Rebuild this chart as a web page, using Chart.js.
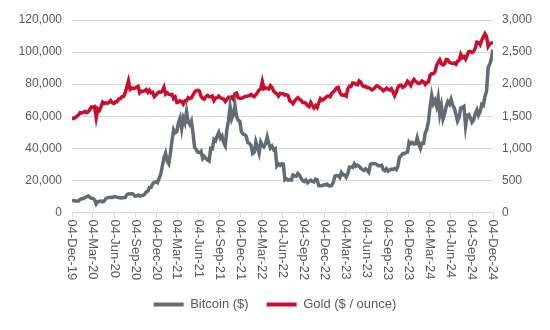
<!DOCTYPE html>
<html>
<head>
<meta charset="utf-8">
<script src="https://cdn.jsdelivr.net/npm/chart.js@4.4.1/dist/chart.umd.min.js"></script>
<style>
  html, body { margin: 0; padding: 0; background: #fff; }
  #wrap { width: 550px; height: 330px; }
</style>
</head>
<body>
<div id="wrap"><canvas id="chart" width="550" height="330"></canvas></div>
<script>
// Weekly observations (Wednesdays) from 04-Dec-19 to 04-Dec-24
const startDate = Date.UTC(2019, 11, 4);

const tickLabels = [
  '04-Dec-19', '04-Mar-20', '04-Jun-20', '04-Sep-20', '04-Dec-20', '04-Mar-21', '04-Jun-21',
  '04-Sep-21', '04-Dec-21', '04-Mar-22', '04-Jun-22', '04-Sep-22', '04-Dec-22', '04-Mar-23',
  '04-Jun-23', '04-Sep-23', '04-Dec-23', '04-Mar-24', '04-Jun-24', '04-Sep-24', '04-Dec-24'
];

const bitcoin = [
  7300, 7500, 7200, 7150,                       // Dec-19
  7200, 8100, 8700, 8650, 9300,                 // Jan-20
  9800, 10300, 9600, 8800,
  8750, 7900, 5300, 6700,
  6800, 7200, 6650, 7100, 8800,
  9100, 9300, 9500, 9400,
  9800, 9750, 9500, 9300,
  9100, 9250, 9200, 9400, 11100,
  11700, 11500, 11800, 11400,
  10200, 10300, 10900, 10250, 10600,
  10600, 11400, 12800, 13300,
  15600, 15700, 17800, 18800,
  19200, 18600, 21300, 23800, 29000,
  34000, 37000, 32000, 30400,                   // Jan-21
  36900, 44800, 51600, 49700,
  50500, 56000, 58900, 52300, 58800,
  56000, 63000, 56500, 54900,
  57000, 49500, 40600, 39300,
  37600, 37400, 38200, 33700, 35000,
  33800, 32800, 32100, 40000,
  39700, 45500, 44700, 47700,
  49900, 46400, 47800, 43600, 41600,
  51500, 57400, 65900, 58400,
  61000, 66900, 60000, 57500,
  57000, 50600, 48900, 48600, 47500,
  43500, 43100, 41800, 36800,                   // Jan-22
  37700, 44000, 40500, 37000,
  43900, 41900, 40900, 42900, 47100,
  43200, 40100, 41400, 39200,
  39700, 29000, 30300, 29400,
  30400, 30100, 20400, 21000, 20100,
  20500, 20200, 23400, 22900,
  22600, 24400, 23300, 21400, 20000,
  19300, 20200, 18500, 19400,
  20100, 19400, 19100, 20800,
  20400, 16600, 16600, 16600, 17200,
  17100, 17800, 16800, 16600,
  16800, 18900, 22700, 23000,                   // Jan-23
  22900, 21800, 24900, 23500,
  23400, 22000, 24300, 28300, 28400,
  28100, 30300, 28800, 29500,
  28800, 27600, 26800, 26300, 27200,
  26300, 25100, 30100, 30500,
  30400, 30400, 29900, 29200,
  29200, 29400, 26600, 26000, 27300,
  25800, 26500, 27100, 26900,
  27400, 26700, 28700, 34500,
  35400, 36700, 36600, 37400, 37700,
  44000, 42900, 43600, 42600,
  42800, 46600, 42700, 40000, 43300,            // Jan-24
  43200, 49700, 51800, 57000,
  66000, 73000, 67900, 69900,
  66300, 71600, 61300, 66400,
  58300, 61400, 66200, 69100, 67500,
  70600, 67000, 65100, 61400,
  57000, 59200, 65100, 65500, 66200,
  54000, 60600, 61100, 59000,
  56200, 57600, 61700, 64000,
  60600, 62800, 67400, 66700, 72300,
  75600, 90500, 92300, 96000,
  101500                                        // Dec-24
];

const gold = [
  1475, 1465, 1478, 1500,                       // Dec-19
  1520, 1555, 1550, 1558, 1575,                 // Jan-20
  1555, 1567, 1605, 1645,
  1640, 1650, 1480, 1615,
  1590, 1650, 1720, 1700, 1710,
  1700, 1715, 1745, 1710,
  1700, 1725, 1725, 1770,
  1775, 1805, 1810, 1865, 1960,
  2050, 1920, 1940, 1930,
  1940, 1950, 1965, 1865, 1890,
  1890, 1895, 1915, 1875,
  1905, 1865, 1875, 1805,
  1830, 1860, 1880, 1875, 1890,
  1950, 1845, 1865, 1845,                       // Jan-21
  1835, 1840, 1775, 1800,
  1715, 1720, 1740, 1730, 1690,
  1740, 1740, 1790, 1775,
  1785, 1830, 1875, 1900,
  1905, 1890, 1810, 1780, 1765,
  1805, 1825, 1805, 1805,
  1815, 1745, 1785, 1790,
  1815, 1790, 1775, 1770, 1730,
  1760, 1795, 1780, 1800,
  1765, 1850, 1860, 1790,
  1780, 1780, 1790, 1805, 1810,
  1815, 1820, 1840, 1820,                       // Jan-22
  1805, 1835, 1870, 1910,
  1925, 2040, 1930, 1945, 1935,
  1925, 1975, 1950, 1890,
  1870, 1850, 1815, 1855,
  1850, 1850, 1830, 1835, 1820,
  1740, 1725, 1695, 1735,
  1765, 1790, 1765, 1750, 1715,
  1715, 1700, 1665, 1650,
  1715, 1670, 1630, 1665,
  1635, 1710, 1775, 1750, 1765,
  1785, 1810, 1815, 1805,
  1855, 1880, 1905, 1940,                       // Jan-23
  1950, 1875, 1835, 1825,
  1835, 1815, 1925, 1970, 1965,
  2020, 2015, 2000, 1990,
  2050, 2030, 1980, 1960, 1965,
  1945, 1945, 1930, 1910,
  1925, 1955, 1975, 1965,
  1940, 1925, 1895, 1915, 1940,
  1920, 1910, 1930, 1875,
  1820, 1875, 1950, 1980,
  1985, 1950, 1965, 1995, 2045,
  2020, 1980, 2035, 2075,
  2045, 2025, 2010, 2020, 2050,                 // Jan-24
  2035, 1995, 2025, 2035,
  2140, 2165, 2160, 2190,
  2290, 2340, 2380, 2320,
  2300, 2315, 2385, 2380, 2340,
  2330, 2320, 2330, 2310,
  2355, 2370, 2465, 2410, 2430,
  2390, 2450, 2510, 2510,
  2495, 2510, 2560, 2655,
  2650, 2615, 2680, 2735, 2785,
  2740, 2590, 2630, 2640,
  2650                                          // Dec-24
];

const DAY = 86400000;
const months = {Jan: 0, Feb: 1, Mar: 2, Apr: 3, May: 4, Jun: 5, Jul: 6, Aug: 7, Sep: 8, Oct: 9, Nov: 10, Dec: 11};

function labelToDay(s) {
  const [d, m, y] = s.split('-');
  return (Date.UTC(2000 + Number(y), months[m], Number(d)) - startDate) / DAY;
}

const tickDays = tickLabels.map(labelToDay);
const toPoints = arr => arr.map((v, i) => ({x: i * 7, y: v}));

const textColor = '#595959';
const gridColor = '#d9d9d9';
const fontFamily = '"Liberation Sans", Arial, sans-serif';

// x labels read top-to-bottom, so draw them ourselves
const verticalLabels = {
  id: 'verticalLabels',
  afterDraw(chart) {
    const scale = chart.scales.x;
    const ctx = chart.ctx;
    ctx.save();
    ctx.fillStyle = textColor;
    ctx.font = '13px ' + fontFamily;
    ctx.textAlign = 'left';
    ctx.textBaseline = 'middle';
    tickDays.forEach((d, i) => {
      const px = scale.getPixelForValue(d);
      ctx.save();
      ctx.translate(px, scale.top + 7);
      ctx.rotate(Math.PI / 2);
      ctx.fillText(tickLabels[i], 0, 0);
      ctx.restore();
    });
    ctx.restore();
  }
};

new Chart(document.getElementById('chart'), {
  type: 'line',
  data: {
    datasets: [
      {
        label: 'Bitcoin ($)',
        data: toPoints(bitcoin),
        yAxisID: 'y',
        borderColor: '#646b75',
        backgroundColor: '#646b75',
        borderWidth: 3.5,
        pointRadius: 0,
        tension: 0
      },
      {
        label: 'Gold ($ / ounce)',
        data: toPoints(gold),
        yAxisID: 'y1',
        borderColor: '#c8102e',
        backgroundColor: '#c8102e',
        borderWidth: 3.5,
        pointRadius: 0,
        tension: 0
      }
    ]
  },
  options: {
    responsive: false,
    animation: false,
    layout: {padding: {top: 20, bottom: 9, left: 0, right: 0}},
    plugins: {
      legend: {
        position: 'bottom',
        labels: {
          boxWidth: 30,
          boxHeight: 4,
          padding: 18,
          color: textColor,
          font: {size: 13, family: fontFamily},
          generateLabels(chart) {
            const items = Chart.defaults.plugins.legend.labels.generateLabels(chart);
            items.forEach(it => { it.lineWidth = 0; });
            return items;
          }
        }
      },
      tooltip: {enabled: false}
    },
    scales: {
      x: {
        type: 'linear',
        min: 0,
        max: tickDays[tickDays.length - 1],
        afterBuildTicks(scale) {
          scale.ticks = tickDays.map(v => ({value: v}));
        },
        afterFit(scale) { scale.height = 67.5; },
        ticks: {display: false},
        grid: {drawOnChartArea: false, drawTicks: true, tickLength: 5, color: gridColor},
        border: {color: gridColor}
      },
      y: {
        position: 'left',
        min: 0,
        max: 120000,
        afterFit(scale) { scale.width = 72; },
        ticks: {
          stepSize: 20000,
          padding: 10,
          color: textColor,
          font: {size: 12, family: fontFamily},
          callback: v => v.toLocaleString('en-US')
        },
        grid: {color: gridColor, drawTicks: false},
        border: {display: false}
      },
      y1: {
        position: 'right',
        min: 0,
        max: 3000,
        afterFit(scale) { scale.width = 57; },
        ticks: {
          stepSize: 500,
          padding: 9,
          color: textColor,
          font: {size: 12, family: fontFamily},
          callback: v => v.toLocaleString('en-US')
        },
        grid: {drawOnChartArea: false, drawTicks: false},
        border: {display: false}
      }
    }
  },
  plugins: [verticalLabels]
});
</script>
</body>
</html>
